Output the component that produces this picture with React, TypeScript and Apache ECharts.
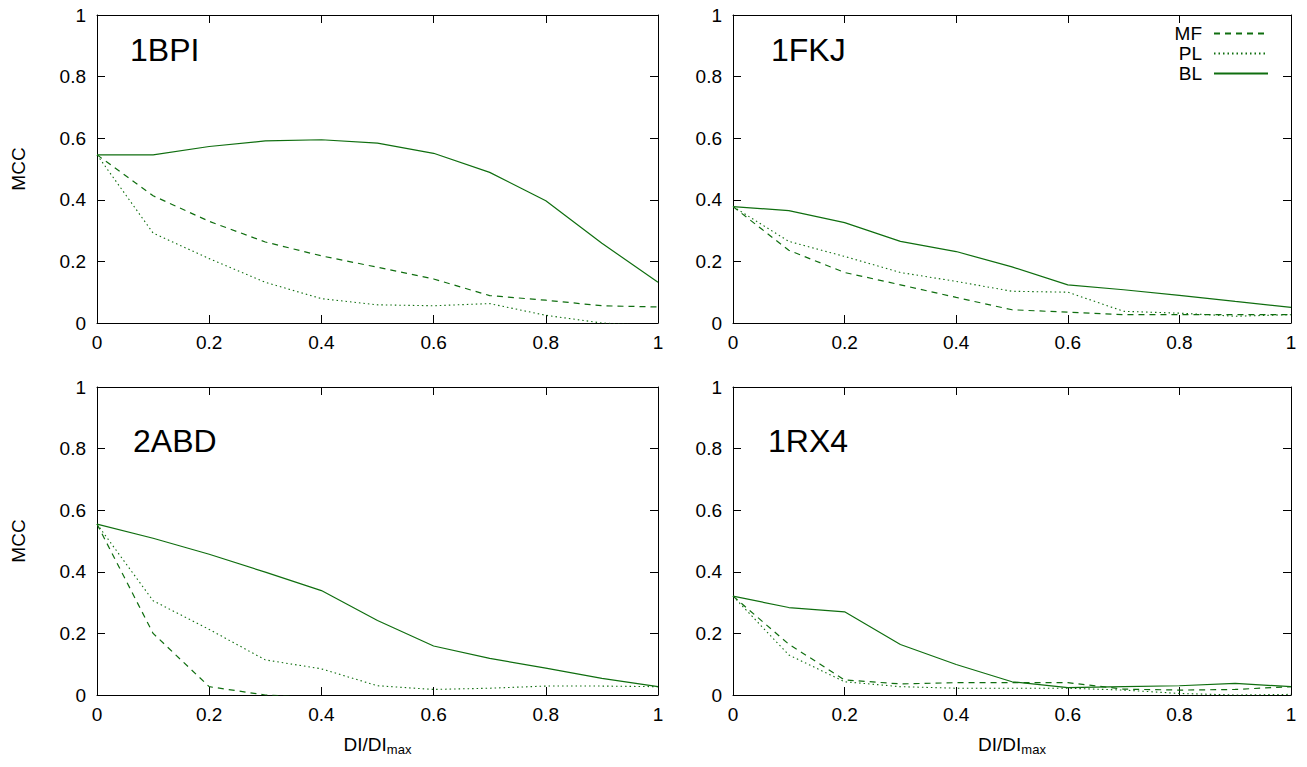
import React, { useEffect, useRef } from 'react';
import * as echarts from 'echarts';

const xValues = [0, 0.1, 0.2, 0.3, 0.4, 0.5, 0.6, 0.7, 0.8, 0.9, 1.0];
const seriesNames = ['MF', 'PL', 'BL'];
const panelTitles = ['1BPI', '1FKJ', '2ABD', '1RX4'];

const bpiMF = [0.546, 0.413, 0.33, 0.263, 0.218, 0.181, 0.143, 0.089, 0.074, 0.056, 0.052];
const bpiPL = [0.546, 0.292, 0.209, 0.132, 0.079, 0.059, 0.056, 0.063, 0.025, 0.0, -0.01];
const bpiBL = [0.546, 0.546, 0.573, 0.591, 0.595, 0.584, 0.551, 0.489, 0.397, 0.259, 0.132];

const fkjMF = [0.378, 0.236, 0.164, 0.124, 0.083, 0.043, 0.035, 0.027, 0.027, 0.027, 0.027];
const fkjPL = [0.378, 0.265, 0.216, 0.164, 0.135, 0.103, 0.1, 0.038, 0.032, 0.022, 0.027];
const fkjBL = [0.378, 0.365, 0.326, 0.265, 0.232, 0.182, 0.124, 0.108, 0.09, 0.07, 0.051];

const abdMF = [0.555, 0.2, 0.027, 0.0, -0.01, -0.01, -0.01, -0.01, -0.01, -0.01, -0.01];
const abdPL = [0.555, 0.306, 0.213, 0.114, 0.085, 0.03, 0.018, 0.022, 0.029, 0.029, 0.027];
const abdBL = [0.555, 0.509, 0.457, 0.399, 0.339, 0.242, 0.159, 0.119, 0.087, 0.054, 0.027];

const rx4MF = [0.321, 0.165, 0.049, 0.036, 0.04, 0.04, 0.04, 0.019, 0.016, 0.018, 0.027];
const rx4PL = [0.321, 0.13, 0.043, 0.027, 0.022, 0.022, 0.022, 0.016, 0.005, 0.0, 0.002];
const rx4BL = [0.321, 0.284, 0.27, 0.164, 0.099, 0.043, 0.024, 0.027, 0.03, 0.038, 0.027];

const panelData = [
  [bpiMF, bpiPL, bpiBL],
  [fkjMF, fkjPL, fkjBL],
  [abdMF, abdPL, abdBL],
  [rx4MF, rx4PL, rx4BL],
];

const FONT = '"Liberation Sans", Arial, Helvetica, sans-serif';
const GREEN = '#0f6e0f';

export default function App() {
  const ref = useRef<HTMLDivElement>(null);

  useEffect(() => {
    if (!ref.current) return;
    const chart = echarts.init(ref.current, null, { renderer: 'svg' });

    const grids = [
      { left: 97, top: 15, width: 561, height: 308 },
      { left: 733, top: 15, width: 558, height: 308 },
      { left: 97, top: 387, width: 561, height: 308 },
      { left: 733, top: 387, width: 558, height: 308 },
    ];

    const titlePos = [
      { left: 130, top: 34 },
      { left: 771, top: 34 },
      { left: 133, top: 425 },
      { left: 768, top: 425 },
    ];

    const axisCommon = {
      type: 'value',
      min: 0,
      max: 1,
      interval: 0.2,
      splitLine: { show: false },
      axisLine: { show: true, onZero: false, lineStyle: { color: '#000', width: 1 } },
      axisTick: { show: true, inside: true, length: 8, lineStyle: { color: '#000', width: 1 } },
    };

    const xAxes: any[] = [];
    const yAxes: any[] = [];
    grids.forEach((_, i) => {
      const bottomRow = i >= 2;
      const leftCol = i % 2 === 0;
      xAxes.push({
        ...axisCommon,
        gridIndex: i,
        position: 'bottom',
        axisLabel: { show: true, fontSize: 19, color: '#000', fontFamily: FONT, margin: 10 },
        name: bottomRow ? '{a|DI/DI}{b|max}' : '',
        nameLocation: 'middle',
        nameGap: 40,
        nameTextStyle: {
          rich: {
            a: { fontSize: 19, fontFamily: FONT, color: '#000', lineHeight: 20, verticalAlign: 'top' },
            b: { fontSize: 13, fontFamily: FONT, color: '#000', lineHeight: 14, padding: [8, 0, 0, 0] },
          },
        },
      });
      xAxes.push({
        ...axisCommon,
        gridIndex: i,
        position: 'top',
        axisLabel: { show: false },
      });
      yAxes.push({
        ...axisCommon,
        gridIndex: i,
        position: 'left',
        axisLabel: { show: true, fontSize: 19, color: '#000', fontFamily: FONT, margin: 11 },
        name: leftCol ? 'MCC' : '',
        nameLocation: 'middle',
        nameGap: 69,
        nameTextStyle: { fontSize: 19, fontFamily: FONT, color: '#000' },
      });
      yAxes.push({
        ...axisCommon,
        gridIndex: i,
        position: 'right',
        axisLabel: { show: false },
      });
    });

    const lineTypes: any[] = [[6, 5], [1.5, 3], 'solid'];
    const lineWidths = [1.2, 1.1, 1.2];

    const series: any[] = [];
    panelData.forEach((arrs, i) => {
      arrs.forEach((vals, k) => {
        series.push({
          type: 'line',
          name: seriesNames[k],
          xAxisIndex: 2 * i,
          yAxisIndex: 2 * i,
          symbol: 'none',
          showSymbol: false,
          clip: true,
          data: xValues.map((x, j) => [x, vals[j]]),
          lineStyle: { color: GREEN, width: lineWidths[k], type: lineTypes[k] },
          itemStyle: { color: GREEN },
        });
      });
    });

    chart.setOption({
      animation: false,
      backgroundColor: '#fff',
      textStyle: { fontFamily: FONT },
      title: panelTitles.map((t, i) => ({
        text: t,
        left: titlePos[i].left,
        top: titlePos[i].top,
        padding: 0,
        textStyle: { fontSize: 32, fontWeight: 'normal', color: '#000', fontFamily: FONT },
      })),
      legend: {
        data: seriesNames,
        orient: 'vertical',
        right: 38,
        top: 24,
        align: 'right',
        itemWidth: 54,
        itemHeight: 12,
        itemGap: 1,
        padding: 0,
        itemStyle: { opacity: 0, borderWidth: 0 },
        textStyle: { fontSize: 19, color: '#000', fontFamily: FONT, padding: [0, 7, 0, 0] },
      },
      grid: grids,
      xAxis: xAxes,
      yAxis: yAxes,
      series,
    });

    return () => chart.dispose();
  }, []);

  return (
    <div
      ref={ref}
      style={{ position: 'fixed', left: 0, top: 0, width: 1307, height: 767, background: '#fff' }}
    />
  );
}
